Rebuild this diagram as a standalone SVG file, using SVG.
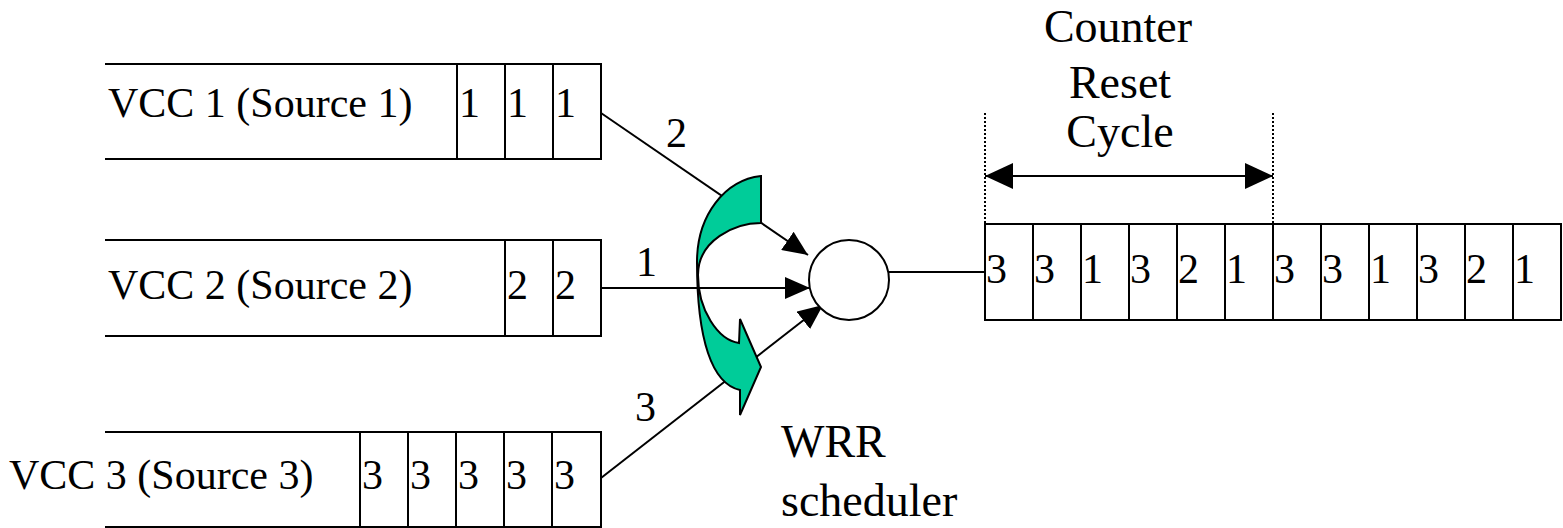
<svg xmlns="http://www.w3.org/2000/svg" width="1563" height="528" viewBox="0 0 1563 528">
<style>
.ln{stroke:#000;stroke-width:2;fill:none}
.t{font-size:42px;fill:#000}
.tl{font-size:46px;fill:#000}
.dot{stroke:#000;stroke-width:2;stroke-dasharray:2,2;fill:none}
</style>
<defs>
<marker id="ah" markerUnits="userSpaceOnUse" markerWidth="26" markerHeight="22" refX="25" refY="11" orient="auto">
<path d="M0,0 L25,11 L0,22 z" fill="#000"/>
</marker>
<marker id="ah2" markerUnits="userSpaceOnUse" markerWidth="28" markerHeight="28" refX="28" refY="13" orient="auto-start-reverse">
<path d="M0,0 L28,13 L0,26 z" fill="#000"/>
</marker>
</defs>
<rect width="1563" height="528" fill="#fff"/>
<g font-family="Liberation Serif, Times New Roman, serif">

<g id="vcc1">
<path class="ln" d="M105,64 H601 V159 H105 M457,64 V159 M505,64 V159 M553,64 V159"/>
<text class="t" x="108" y="117">VCC 1 (Source 1)</text>
<text class="t" x="459" y="117">1</text>
<text class="t" x="507" y="117">1</text>
<text class="t" x="555" y="117">1</text>
</g>

<g id="vcc2">
<path class="ln" d="M105,240 H601 V336 H105 M505,240 V336 M553,240 V336"/>
<text class="t" x="108" y="299">VCC 2 (Source 2)</text>
<text class="t" x="507" y="299">2</text>
<text class="t" x="555" y="299">2</text>
</g>

<g id="vcc3">
<path class="ln" d="M105,432 H601 V527 H105 M360,432 V527 M408,432 V527 M456,432 V527 M504,432 V527 M552,432 V527"/>
<text class="t" x="9" y="489">VCC 3 (Source 3)</text>
<text class="t" x="362" y="489">3</text>
<text class="t" x="410" y="489">3</text>
<text class="t" x="458" y="489">3</text>
<text class="t" x="506" y="489">3</text>
<text class="t" x="554" y="489">3</text>
</g>

<g id="connectors">
<line class="ln" x1="601" y1="113" x2="808" y2="255" marker-end="url(#ah)"/>
<line class="ln" x1="601" y1="288" x2="810" y2="288" marker-end="url(#ah)"/>
<line class="ln" x1="601" y1="478" x2="823" y2="305" marker-end="url(#ah)"/>
<line class="ln" x1="889" y1="272" x2="985" y2="272"/>
<text class="t" x="666" y="147">2</text>
<text class="t" x="636" y="276">1</text>
<text class="t" x="635" y="421">3</text>
</g>

<g id="rotation-arrow">
<path d="M761,176 L761,223 C735,223 698,240 698,275 C698,310 718,340 739,343 L740,319 L761,367 L740,415 L740,390 C712,384 697,340 697,262 C697,215 725,180 761,176 Z" fill="#00CC99" stroke="#000" stroke-width="2" stroke-linejoin="miter"/>
</g>

<g id="scheduler">
<circle cx="849" cy="280" r="40" fill="#fff" stroke="#000" stroke-width="2"/>
<text class="tl" x="781" y="457">WRR</text>
<text class="tl" x="781" y="516">scheduler</text>
</g>

<g id="output-queue">
<path class="ln" d="M985,224 H1561 V320 H985 Z M1033,224 V320 M1081,224 V320 M1129,224 V320 M1177,224 V320 M1225,224 V320 M1273,224 V320 M1321,224 V320 M1369,224 V320 M1417,224 V320 M1465,224 V320 M1513,224 V320"/>
<text class="t" x="986" y="283">3</text>
<text class="t" x="1034" y="283">3</text>
<text class="t" x="1082" y="283">1</text>
<text class="t" x="1130" y="283">3</text>
<text class="t" x="1178" y="283">2</text>
<text class="t" x="1226" y="283">1</text>
<text class="t" x="1274" y="283">3</text>
<text class="t" x="1322" y="283">3</text>
<text class="t" x="1370" y="283">1</text>
<text class="t" x="1418" y="283">3</text>
<text class="t" x="1466" y="283">2</text>
<text class="t" x="1514" y="283">1</text>
</g>

<g id="reset-cycle">
<line class="dot" x1="985" y1="113" x2="985" y2="224"/>
<line class="dot" x1="1273" y1="113" x2="1273" y2="224"/>
<line class="ln" x1="985" y1="176" x2="1273" y2="176" marker-start="url(#ah2)" marker-end="url(#ah2)"/>
<text class="tl" x="1118" y="42" text-anchor="middle">Counter</text>
<text class="tl" x="1120" y="98" text-anchor="middle">Reset</text>
<text class="tl" x="1120" y="147" text-anchor="middle">Cycle</text>
</g>
</g>
</svg>
